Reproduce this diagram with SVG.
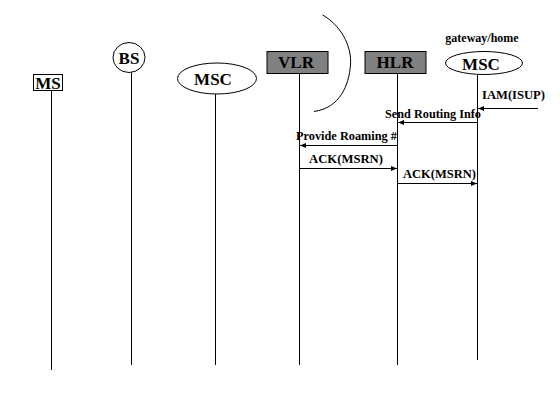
<svg xmlns="http://www.w3.org/2000/svg" width="560" height="420" viewBox="0 0 560 420">
<style>
.lbl{font-family:"Liberation Serif","Times New Roman",serif;font-weight:bold;font-size:17px;fill:#000;text-anchor:middle}
.msg{font-family:"Liberation Serif","Times New Roman",serif;font-weight:bold;font-size:12px;fill:#000}
.shape{fill:#fff;stroke:#000;stroke-width:1}
.gray{fill:#808080;stroke:#000;stroke-width:1}
.life{stroke:#000;stroke-width:1;fill:none}
.arr{stroke:#000;stroke-width:1;fill:none;marker-end:url(#ah)}
</style>
<defs>
<marker id="ah" viewBox="0 0 6 6" refX="6" refY="3" markerWidth="6" markerHeight="6" markerUnits="userSpaceOnUse" orient="auto">
<path d="M0,0.5 L6,3 L0,5.5 Z" fill="#000"/>
</marker>
</defs>
<rect width="560" height="420" fill="#fff"/>
<g id="MS">
<rect class="shape" x="33.5" y="74.5" width="29" height="16"/>
<text class="lbl" x="48" y="89">MS</text>
<line class="life" x1="51.5" y1="90" x2="51.5" y2="370"/>
</g>
<g id="BS">
<ellipse class="shape" cx="129" cy="57.5" rx="16" ry="15"/>
<text class="lbl" x="129" y="64">BS</text>
<line class="life" x1="131.5" y1="72.5" x2="131.5" y2="365"/>
</g>
<g id="MSC">
<ellipse class="shape" cx="217" cy="78.5" rx="39.5" ry="15.5"/>
<text class="lbl" x="213" y="84.5">MSC</text>
<line class="life" x1="215.5" y1="94" x2="215.5" y2="365"/>
</g>
<g id="VLR">
<rect class="gray" x="267" y="51.5" width="61" height="22"/>
<text class="lbl" x="296" y="68">VLR</text>
<line class="life" x1="299.5" y1="73.5" x2="299.5" y2="365"/>
</g>
<g id="HLR">
<rect class="gray" x="365" y="51.5" width="61" height="22"/>
<text class="lbl" x="395" y="68">HLR</text>
<line class="life" x1="397.5" y1="73.5" x2="397.5" y2="365"/>
</g>
<g id="GMSC">
<text class="msg" x="482" y="42" text-anchor="middle" font-size="11">gateway/home</text>
<ellipse class="shape" cx="484" cy="63" rx="38.5" ry="11.5"/>
<text class="lbl" x="481" y="69.5">MSC</text>
<line class="life" x1="477.5" y1="74.5" x2="477.5" y2="360"/>
</g>
<path d="M322.7,15 C340,25 352,45 350.5,65 C349,85 340,108 314,111.5" fill="none" stroke="#000" stroke-width="1"/>
<g id="connectors">
<line class="arr" x1="538" y1="108.5" x2="478" y2="108.5"/>
<text class="msg" x="482" y="99" textLength="63" lengthAdjust="spacingAndGlyphs">IAM(ISUP)</text>
<line class="arr" x1="477.5" y1="122.5" x2="398" y2="122.5"/>
<text class="msg" x="385" y="117.5" textLength="96" lengthAdjust="spacingAndGlyphs">Send Routing Info</text>
<line class="arr" x1="397.5" y1="145.5" x2="300" y2="145.5"/>
<text class="msg" x="296" y="139.5" textLength="101" lengthAdjust="spacingAndGlyphs">Provide Roaming #</text>
<line class="arr" x1="299.5" y1="168.5" x2="397" y2="168.5"/>
<text class="msg" x="309" y="163" textLength="74" lengthAdjust="spacingAndGlyphs">ACK(MSRN)</text>
<line class="arr" x1="397.5" y1="183.5" x2="477" y2="183.5"/>
<text class="msg" x="403" y="177.5" textLength="73" lengthAdjust="spacingAndGlyphs">ACK(MSRN)</text>
</g>
</svg>
